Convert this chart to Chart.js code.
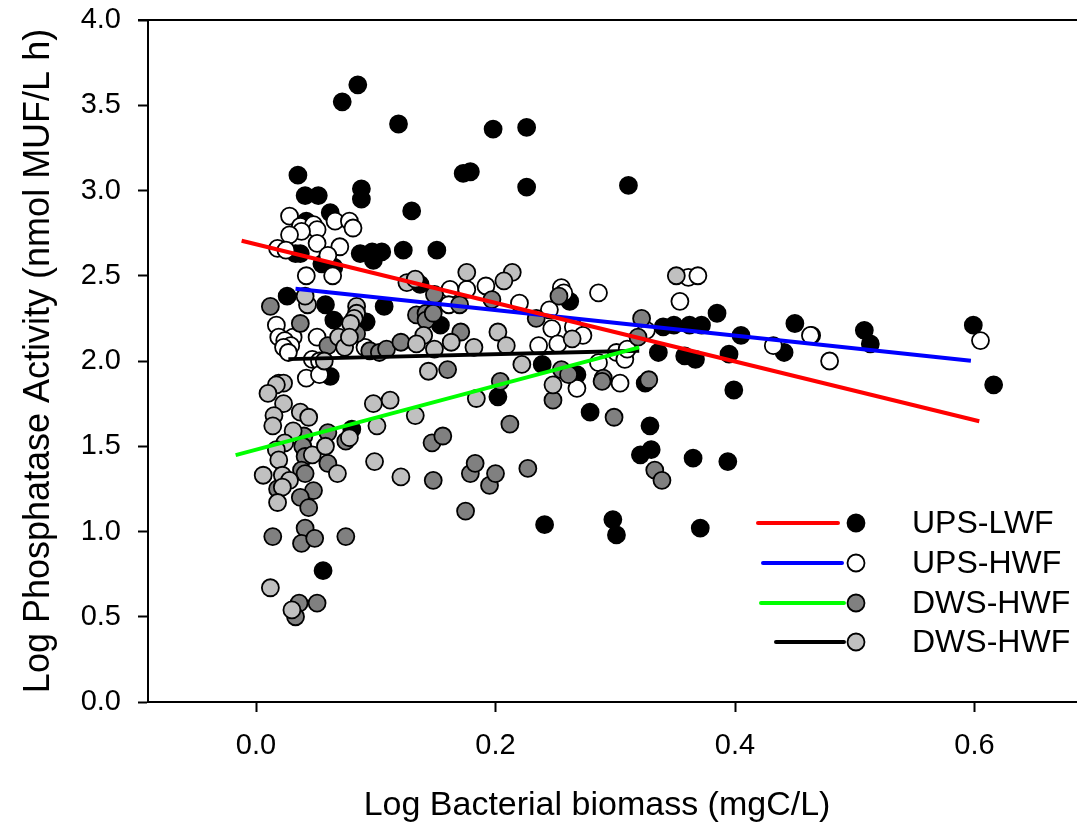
<!DOCTYPE html>
<html>
<head>
<meta charset="utf-8">
<script src="https://cdn.jsdelivr.net/npm/chart.js@4/dist/chart.umd.min.js"></script>
<style>
  html, body { margin: 0; padding: 0; background: #fff; overflow: hidden; }
  canvas { display: block; }
</style>
</head>
<body>
<canvas id="chart" width="1077" height="832"></canvas>
<script>
// values: [log biomass, log phosphatase activity]
const upsLwf = [
  [0.085, 3.62], [0.072, 3.52], [0.119, 3.39], [0.198, 3.36], [0.226, 3.37],
  [0.035, 3.09], [0.173, 3.10], [0.179, 3.11], [0.226, 3.02], [0.311, 3.03],
  [0.041, 2.97], [0.052, 2.97], [0.088, 3.01], [0.088, 2.95], [0.130, 2.88],
  [0.062, 2.87], [0.042, 2.82], [0.087, 2.63], [0.097, 2.64], [0.105, 2.64],
  [0.098, 2.59], [0.123, 2.65], [0.151, 2.65], [0.033, 2.63], [0.037, 2.63],
  [0.055, 2.57], [0.065, 2.55], [0.137, 2.45], [0.026, 2.38], [0.058, 2.33],
  [0.107, 2.32], [0.065, 2.24], [0.092, 2.23], [0.154, 2.21], [0.062, 1.91],
  [0.202, 1.79], [0.080, 1.60], [0.056, 0.77], [0.262, 2.35], [0.239, 1.98],
  [0.268, 1.92], [0.279, 1.70], [0.329, 1.62], [0.321, 1.45], [0.330, 1.48],
  [0.365, 1.43], [0.394, 1.41], [0.241, 1.04], [0.298, 1.07], [0.301, 0.98],
  [0.371, 1.02], [0.340, 2.20], [0.349, 2.21], [0.362, 2.21], [0.372, 2.21],
  [0.385, 2.28], [0.336, 2.05], [0.358, 2.03], [0.367, 2.01], [0.395, 2.04],
  [0.325, 1.87], [0.399, 1.83], [0.405, 2.15], [0.450, 2.22], [0.441, 2.05],
  [0.464, 2.15], [0.508, 2.18], [0.513, 2.10], [0.599, 2.21], [0.616, 1.86]
];
const upsHwf = [
  [0.028, 2.85], [0.037, 2.79], [0.048, 2.80], [0.051, 2.77], [0.038, 2.76],
  [0.066, 2.82], [0.078, 2.82], [0.081, 2.78], [0.028, 2.74], [0.051, 2.69],
  [0.070, 2.67], [0.018, 2.66], [0.025, 2.65], [0.060, 2.62], [0.042, 2.50],
  [0.064, 2.50], [0.017, 2.21], [0.019, 2.14], [0.031, 2.14], [0.024, 2.12],
  [0.029, 2.09], [0.023, 2.08], [0.027, 2.05], [0.051, 2.14], [0.047, 2.01],
  [0.053, 2.00], [0.042, 1.90], [0.053, 1.92], [0.091, 2.08], [0.162, 2.42],
  [0.176, 2.42], [0.192, 2.44], [0.220, 2.34], [0.161, 2.33], [0.255, 2.43],
  [0.257, 2.40], [0.286, 2.40], [0.245, 2.30], [0.247, 2.19], [0.265, 2.20],
  [0.273, 2.15], [0.236, 2.09], [0.252, 2.10], [0.268, 1.84], [0.304, 1.87],
  [0.286, 1.99], [0.301, 2.05], [0.308, 2.01], [0.310, 2.07], [0.354, 2.35],
  [0.361, 2.49], [0.369, 2.50], [0.326, 2.18], [0.432, 2.09], [0.463, 2.15],
  [0.479, 2.00], [0.605, 2.12]
];
const dwsHwfDark = [
  [0.012, 2.32], [0.037, 2.22], [0.060, 2.09], [0.084, 2.16], [0.095, 2.06],
  [0.103, 2.05], [0.109, 2.07], [0.121, 2.11], [0.134, 2.27], [0.142, 2.28],
  [0.142, 2.24], [0.148, 2.28], [0.149, 2.39], [0.171, 2.17], [0.170, 2.33],
  [0.197, 2.36], [0.160, 1.95], [0.204, 1.88], [0.212, 1.63], [0.227, 1.37],
  [0.019, 1.87], [0.040, 1.56], [0.039, 1.50], [0.041, 1.44], [0.060, 1.58],
  [0.075, 1.53], [0.038, 1.36], [0.041, 1.34], [0.060, 1.40], [0.018, 1.25],
  [0.048, 1.24], [0.037, 1.20], [0.044, 1.14], [0.147, 1.52], [0.156, 1.56],
  [0.148, 1.30], [0.179, 1.34], [0.183, 1.40], [0.195, 1.27], [0.200, 1.34],
  [0.175, 1.12], [0.014, 0.97], [0.041, 1.02], [0.038, 0.93], [0.049, 0.96],
  [0.075, 0.97], [0.036, 0.58], [0.051, 0.58], [0.033, 0.50], [0.234, 2.25],
  [0.253, 2.38], [0.255, 1.95], [0.261, 1.92], [0.248, 1.77], [0.299, 1.67],
  [0.322, 2.25], [0.319, 2.14], [0.290, 1.90], [0.289, 1.88], [0.328, 1.89],
  [0.333, 1.36], [0.339, 1.30]
];
const dwsHwfLight = [
  [0.043, 2.33], [0.041, 2.38], [0.084, 2.32], [0.084, 2.28], [0.082, 2.25],
  [0.079, 2.22], [0.069, 2.14], [0.074, 2.08], [0.078, 2.14], [0.176, 2.52],
  [0.214, 2.52], [0.207, 2.47], [0.126, 2.46], [0.133, 2.48], [0.140, 2.15],
  [0.134, 2.10], [0.149, 2.07], [0.163, 2.11], [0.182, 2.08], [0.202, 2.17],
  [0.209, 2.09], [0.057, 2.00], [0.222, 1.98], [0.144, 1.94], [0.023, 1.87],
  [0.017, 1.86], [0.010, 1.81], [0.023, 1.75], [0.015, 1.68], [0.014, 1.62],
  [0.037, 1.70], [0.044, 1.67], [0.031, 1.59], [0.024, 1.52], [0.017, 1.48],
  [0.019, 1.42], [0.006, 1.33], [0.022, 1.33], [0.028, 1.30], [0.022, 1.26],
  [0.018, 1.17], [0.047, 1.45], [0.058, 1.50], [0.068, 1.34], [0.098, 1.75],
  [0.112, 1.77], [0.133, 1.68], [0.101, 1.62], [0.078, 1.55], [0.099, 1.41],
  [0.121, 1.32], [0.184, 1.78], [0.012, 0.67], [0.030, 0.54], [0.248, 1.86],
  [0.264, 2.13], [0.351, 2.50]
];

// fitted regression lines: [start, end]
const fitUpsLwf = [[-0.012, 2.705], [0.604, 1.647]];
const fitUpsHwf = [[0.033, 2.424], [0.597, 2.001]];
const fitDwsDark = [[-0.017, 1.448], [0.320, 2.080]];
const fitDwsLight = [[0.027, 2.011], [0.320, 2.060]];

const seriesNames = ["UPS-LWF", "UPS-HWF", "DWS-HWF", "DWS-HWF"];
const fillColors = ["#000000", "#ffffff", "#808080", "#c0c0c0"];
const lineColors = ["#ff0000", "#0000ff", "#00ff00", "#000000"];
const yTicks = [0, 0.5, 1, 1.5, 2, 2.5, 3, 3.5, 4];
const xTicks = [0, 0.2, 0.4, 0.6];
const xTitle = "Log Bacterial biomass (mgC/L)";

const FONT = "'Liberation Sans', Arial, Helvetica, sans-serif";
const toXY = arr => arr.map(p => ({ x: p[0], y: p[1] }));

function pointSet(i, data, order) {
  return {
    label: seriesNames[i],
    data: toXY(data),
    backgroundColor: fillColors[i],
    borderColor: "#000000",
    borderWidth: 1.8,
    pointRadius: 8.5,
    pointHoverRadius: 8.5,
    order: order
  };
}
function lineSet(i, data) {
  return {
    label: seriesNames[i] + " fit",
    data: toXY(data),
    showLine: true,
    borderColor: lineColors[i],
    borderWidth: 4,
    pointRadius: 0,
    fill: false,
    order: 0
  };
}

// no extra label padding, so the plot box stays where the figure has it
function fixBox(s, w, h) {
  if (w) s.width = w;
  if (h) s.height = h;
  s.paddingLeft = 0; s.paddingRight = 0; s.paddingTop = 0; s.paddingBottom = 0;
}

// top frame line, x title (set left of centre as in the figure) and the legend
const extras = {
  id: "extras",
  afterDraw(chart) {
    const { ctx, chartArea } = chart;
    ctx.save();
    ctx.strokeStyle = "#000";
    ctx.lineWidth = 2;
    ctx.beginPath();
    ctx.moveTo(chartArea.left - 10, chartArea.top);
    ctx.lineTo(chartArea.right, chartArea.top);
    ctx.stroke();

    ctx.fillStyle = "#000";
    ctx.font = "34px " + FONT;
    ctx.textAlign = "center";
    ctx.textBaseline = "middle";
    ctx.fillText(xTitle, 597, 806);

    const rows = [
      { y: 523, x0: 758, x1: 838 },
      { y: 563, x0: 763, x1: 842 },
      { y: 603, x0: 761, x1: 844 },
      { y: 642, x0: 776, x1: 844 }
    ];
    ctx.font = "32px " + FONT;
    ctx.textAlign = "left";
    rows.forEach((r, i) => {
      ctx.strokeStyle = lineColors[i];
      ctx.lineWidth = 4;
      ctx.lineCap = "round";
      ctx.beginPath();
      ctx.moveTo(r.x0, r.y);
      ctx.lineTo(r.x1, r.y);
      ctx.stroke();
      ctx.beginPath();
      ctx.arc(856, r.y, 8.5, 0, Math.PI * 2);
      ctx.fillStyle = fillColors[i];
      ctx.fill();
      ctx.lineWidth = 1.8;
      ctx.strokeStyle = "#000";
      ctx.stroke();
      ctx.fillStyle = "#000";
      ctx.fillText(seriesNames[i], 912, r.y + 1);
    });
    ctx.restore();
  }
};

new Chart(document.getElementById("chart"), {
  type: "scatter",
  data: {
    datasets: [
      lineSet(0, fitUpsLwf),
      lineSet(1, fitUpsHwf),
      lineSet(2, fitDwsDark),
      lineSet(3, fitDwsLight),
      pointSet(3, dwsHwfLight, 1),
      pointSet(2, dwsHwfDark, 2),
      pointSet(1, upsHwf, 3),
      pointSet(0, upsLwf, 4)
    ]
  },
  options: {
    responsive: false,
    animation: false,
    events: [],
    layout: { autoPadding: false, padding: { top: 20, right: 0, left: 0, bottom: 0 } },
    plugins: {
      legend: { display: false },
      tooltip: { enabled: false }
    },
    scales: {
      x: {
        type: "linear",
        min: -0.0902,
        max: 0.6856,
        afterBuildTicks: s => { s.ticks = xTicks.map(v => ({ value: v })); },
        afterFit: s => fixBox(s, 0, 130),
        ticks: {
          color: "#000",
          font: { family: FONT, size: 29 },
          padding: 17,
          maxRotation: 0,
          callback: v => v.toFixed(1)
        },
        grid: { drawOnChartArea: false, drawTicks: true, tickLength: 10, tickColor: "#000", tickWidth: 2 },
        border: { display: true, color: "#000", width: 2 }
      },
      y: {
        type: "linear",
        min: 0,
        max: 4,
        afterBuildTicks: s => { s.ticks = yTicks.map(v => ({ value: v })); },
        afterFit: s => fixBox(s, 148, 0),
        ticks: {
          color: "#000",
          font: { family: FONT, size: 29 },
          padding: 17,
          callback: v => v.toFixed(1)
        },
        grid: { drawOnChartArea: false, drawTicks: true, tickLength: 10, tickColor: "#000", tickWidth: 2 },
        border: { display: true, color: "#000", width: 2 },
        title: {
          display: true,
          text: "Log Phosphatase Activity (nmol MUF/L h)",
          color: "#000",
          font: { family: FONT, size: 36 },
          padding: { top: 17, bottom: 0 }
        }
      }
    }
  },
  plugins: [extras]
});
</script>
</body>
</html>
